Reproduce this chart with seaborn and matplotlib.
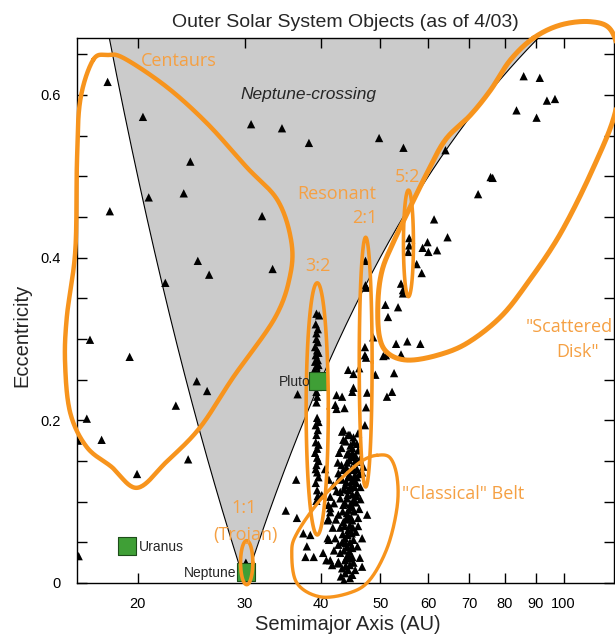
import numpy as np
import pandas as pd
import seaborn as sns
import matplotlib.pyplot as plt

# --- data: semimajor axis (AU) and eccentricity ---
centaur_a = [17.85, 20.4, 30.7, 34.5, 38.2, 24.4, 20.85, 23.8, 18.0, 32.0, 25.1, 33.3, 26.2, 22.2,
             16.7, 19.4, 25.0, 26.0, 23.1, 16.5, 15.95, 17.45, 24.2, 19.95, 16.0, 49.8, 54.6]
centaur_e = [0.616, 0.573, 0.564, 0.559, 0.541, 0.518, 0.474, 0.479, 0.457, 0.451, 0.396, 0.386, 0.379, 0.369,
             0.299, 0.278, 0.248, 0.236, 0.218, 0.202, 0.175, 0.176, 0.152, 0.134, 0.033, 0.547, 0.535]

plutino_a = [39.3, 39.7, 39.2, 39.3, 39.3, 39.5, 39.1, 39.4, 39.2, 39.5, 39.1, 39.3, 39.0, 39.6, 39.4,
             39.2, 39.5, 39.3, 39.4, 39.3, 39.4, 39.2, 39.5, 39.3, 39.2, 39.6, 39.1, 39.4, 39.3, 39.4,
             39.6, 39.2, 39.4, 39.5, 39.6, 39.6, 39.1, 39.6, 39.4, 39.6, 39.2, 39.5, 39.3]
plutino_e = [0.331, 0.329, 0.318, 0.307, 0.300, 0.296, 0.290, 0.286, 0.280, 0.274, 0.272, 0.266, 0.262, 0.259, 0.253,
             0.246, 0.241, 0.235, 0.229, 0.222, 0.203, 0.194, 0.188, 0.182, 0.173, 0.170, 0.160, 0.154, 0.145, 0.136,
             0.130, 0.123, 0.114, 0.312, 0.283, 0.268, 0.250, 0.198, 0.165, 0.150, 0.140, 0.107, 0.101]

classical_a = [43.3, 44.3, 45.2, 43.5, 45.2, 43.2, 45.0, 42.8, 44.3, 45.5, 42.6, 44.1, 45.8, 46.9, 43.5,
               45.2, 46.7, 42.7, 44.3, 45.8, 43.3, 45.2, 41.9, 43.8, 44.8, 43.0, 44.3, 45.8, 41.4, 43.0,
               44.1, 45.2, 46.4, 41.1, 43.5, 45.0, 47.6, 41.4, 42.7, 44.1, 41.1, 43.5, 45.0, 46.0, 43.0,
               44.3, 41.0, 42.2, 43.8, 45.2, 46.7, 42.7, 44.1, 45.0, 40.3, 43.0, 44.3, 41.4, 42.7, 43.8,
               45.2, 46.7, 43.3, 44.3, 45.5, 43.8, 45.0,
               43.9, 44.6, 44.0, 44.7, 43.6, 44.5, 43.9, 44.6, 43.4, 44.2, 44.9, 43.7, 44.6, 43.9, 44.8,
               43.4, 44.4, 45.3, 43.8, 44.7, 45.6, 44.2, 45.0, 45.7, 43.6, 44.6, 45.4, 44.0, 44.9, 45.7,
               44.5, 45.4, 46.2, 44.0, 44.9, 45.8, 44.5, 45.5, 46.3, 44.1, 45.0, 46.0, 44.7, 45.8, 43.9,
               44.8, 43.2, 42.9, 42.4, 42.0, 46.4, 46.2, 46.0, 45.9, 46.3, 42.0, 41.8, 42.3, 43.1, 44.6,
               43.6, 44.9, 43.3, 45.6, 42.6, 44.2, 45.1, 45.0]
classical_e = [0.186, 0.182, 0.179, 0.176, 0.173, 0.166, 0.166, 0.160, 0.160, 0.157, 0.148, 0.148, 0.149, 0.143, 0.139,
               0.139, 0.136, 0.135, 0.130, 0.130, 0.127, 0.127, 0.120, 0.120, 0.119, 0.112, 0.114, 0.111, 0.106, 0.104,
               0.104, 0.102, 0.103, 0.096, 0.096, 0.093, 0.084, 0.087, 0.084, 0.086, 0.079, 0.075, 0.077, 0.080, 0.068,
               0.065, 0.055, 0.055, 0.055, 0.053, 0.055, 0.047, 0.044, 0.043, 0.037, 0.037, 0.034, 0.028, 0.026, 0.028,
               0.025, 0.020, 0.018, 0.016, 0.016, 0.012, 0.010,
               0.021, 0.022, 0.031, 0.030, 0.040, 0.039, 0.049, 0.050, 0.060, 0.059, 0.061, 0.070, 0.071, 0.078, 0.080,
               0.088, 0.090, 0.088, 0.098, 0.097, 0.099, 0.108, 0.109, 0.107, 0.115, 0.117, 0.118, 0.124, 0.125, 0.123,
               0.133, 0.132, 0.134, 0.142, 0.141, 0.140, 0.151, 0.150, 0.152, 0.158, 0.160, 0.163, 0.169, 0.171, 0.174,
               0.155, 0.145, 0.130, 0.113, 0.098, 0.118, 0.091, 0.070, 0.045, 0.031, 0.040, 0.068, 0.078, 0.008, 0.006,
               0.003, 0.045, 0.050, 0.063, 0.024, 0.082, 0.068, 0.032]

middle_a = [48.7, 47.2, 47.2, 53.1, 44.3, 45.2, 46.2, 49.1, 52.7, 52.3, 51.3, 45.2, 45.0, 47.6, 42.4,
            43.3, 42.2, 43.7, 42.4, 47.4, 47.2, 43.5, 44.6, 46.0, 36.6, 51.1, 55.4, 58.2, 50.6, 54.1,
            51.0, 53.5, 51.5, 47.3, 47.3, 47.5, 47.4, 36.4, 36.5, 35.0, 40.1, 41.2, 40.6]
middle_e = [0.302, 0.290, 0.280, 0.294, 0.262, 0.257, 0.264, 0.256, 0.258, 0.235, 0.229, 0.240, 0.235, 0.234, 0.231,
            0.229, 0.219, 0.215, 0.214, 0.216, 0.194, 0.188, 0.182, 0.184, 0.232, 0.280, 0.297, 0.294, 0.279, 0.281,
            0.342, 0.339, 0.327, 0.396, 0.366, 0.363, 0.277, 0.127, 0.080, 0.089, 0.108, 0.127, 0.140]

inner_a = [37.4, 38.4, 37.9, 37.7, 38.9, 41.2, 41.0, 41.4, 40.8, 41.7, 30.1]
inner_e = [0.061, 0.059, 0.045, 0.032, 0.032, 0.053, 0.077, 0.092, 0.028, 0.022, 0.025]

scattered_a = [55.8, 55.8, 55.6, 54.1, 54.5, 54.5, 61.3, 64.5, 59.8, 58.7, 60.0, 62.0, 57.4, 58.5,
               72.4, 75.9, 76.5, 86.0, 91.4, 93.9, 96.8, 83.7, 90.3, 64.0]
scattered_e = [0.424, 0.415, 0.407, 0.368, 0.360, 0.356, 0.447, 0.425, 0.419, 0.412, 0.407, 0.409, 0.392, 0.381,
               0.478, 0.499, 0.498, 0.623, 0.621, 0.593, 0.595, 0.581, 0.572, 0.532]

planet_names = ["Uranus", "Neptune", "Pluto"]
planet_a = [19.2, 30.1, 39.5]
planet_e = [0.046, 0.013, 0.248]

x_ticks = [20, 30, 40, 50, 60, 70, 80, 90, 100]
NEPTUNE_A = 30.0

# hand drawn orange loops (a, e)
centaur_loop_a = [16.9, 17.85, 19.0, 22.3, 26.0, 30.2, 33.9, 35.7, 35.6, 33.6, 28.7, 25.3, 22.3, 19.95,
                  18.1, 16.5, 15.5, 15.2, 15.3, 15.8, 15.9, 16.1]
centaur_loop_e = [0.643, 0.649, 0.645, 0.610, 0.565, 0.511, 0.471, 0.422, 0.379, 0.326, 0.253, 0.191, 0.149, 0.117,
                  0.143, 0.167, 0.209, 0.270, 0.327, 0.409, 0.520, 0.594]
scatter_loop_a = [89.3, 98.9, 110.7, 119.5, 123.2, 121.8, 112.0, 98.9, 87.3, 78.8, 69.5, 62.1, 55.4, 51.4,
                  49.8, 49.6, 50.4, 52.5, 56.0, 59.7, 64.0, 70.3, 75.9, 81.8]
scatter_loop_e = [0.670, 0.686, 0.690, 0.680, 0.643, 0.581, 0.511, 0.430, 0.369, 0.327, 0.295, 0.280, 0.274, 0.283,
                  0.305, 0.348, 0.385, 0.418, 0.462, 0.504, 0.545, 0.575, 0.606, 0.643]
classical_loop_a = [49.4, 51.9, 53.3, 53.3, 51.4, 48.1, 44.6, 39.85, 36.5, 35.8, 36.5, 39.85, 44.1, 46.9]
classical_loop_e = [0.157, 0.154, 0.130, 0.093, 0.044, 0.004, -0.012, -0.017, 0.0, 0.037, 0.061, 0.102, 0.135, 0.151]
# resonance loops: (a_min, a_max, e_min, e_max)
resonance_boxes = {"3:2": (37.8, 41.1, 0.059, 0.369),
                   "2:1": (46.2, 48.5, 0.118, 0.425),
                   "5:2": (54.6, 56.7, 0.352, 0.483),
                   "1:1": (29.5, 30.9, -0.002, 0.052)}

ORANGE = "#F7941D"
TEXT_ORANGE = "#F5A043"


def closed_spline(a, e, n=24):
    # smooth closed curve through the points, built in log(a) space
    pts = np.column_stack([np.log10(a), e])
    P = np.vstack([pts[-1], pts, pts[0], pts[1]])
    t = np.linspace(0, 1, n, endpoint=False)[:, None]
    segs = []
    for i in range(1, len(pts) + 1):
        p0, p1, p2, p3 = P[i - 1], P[i], P[i + 1], P[i + 2]
        segs.append(0.5 * (2 * p1 + (-p0 + p2) * t + (2 * p0 - 5 * p1 + 4 * p2 - p3) * t ** 2
                           + (-p0 + 3 * p1 - 3 * p2 + p3) * t ** 3))
    out = np.vstack(segs + [segs[0][:1]])
    return 10 ** out[:, 0], out[:, 1]


def box_ellipse(box, n=100):
    a0, a1, e0, e1 = box
    t = np.linspace(0, 2 * np.pi, n)
    uc, hu = (np.log10(a0) + np.log10(a1)) / 2, (np.log10(a1) - np.log10(a0)) / 2
    return 10 ** (uc + hu * np.cos(t)), (e0 + e1) / 2 + (e1 - e0) / 2 * np.sin(t)


objects = pd.DataFrame({
    "a": centaur_a + plutino_a + classical_a + middle_a + inner_a + scattered_a,
    "e": centaur_e + plutino_e + classical_e + middle_e + inner_e + scattered_e,
})
planets = pd.DataFrame({"name": planet_names, "a": planet_a, "e": planet_e})

sns.set_theme(style="ticks")
plt.rcParams['font.family'] = ['Liberation Sans', 'DejaVu Sans']

fig = plt.figure(figsize=(6.15, 6.37), dpi=100)
ax = fig.add_axes([0.1252, 0.0848, 0.8732, 0.8556])
ax.set_xscale("log")
XMIN, XMAX, YMAX = 15.9, 121, 0.67

# Neptune-crossing zone: perihelion inside 30 AU and aphelion outside
grid = np.geomspace(XMIN, XMAX, 500)
edge = np.abs(1 - NEPTUNE_A / grid)
ax.fill_between(grid, edge, YMAX, color="#cbcbcb", lw=0, zorder=0)
ax.plot(grid, edge, color="black", lw=0.8, zorder=1)

sns.scatterplot(data=objects, x="a", y="e", marker="^", color="black", s=36,
                edgecolor="none", legend=False, ax=ax, zorder=3)
sns.scatterplot(data=planets, x="a", y="e", marker="s", color="#3f9f36", s=150,
                edgecolor="#1d4d1a", linewidth=0.8, legend=False, ax=ax, zorder=4)

# orange annotation loops
for la, le, lw in [(centaur_loop_a, centaur_loop_e, 3.2),
                   (scatter_loop_a, scatter_loop_e, 3.6),
                   (classical_loop_a, classical_loop_e, 2.4)]:
    xs, ys = closed_spline(la, le)
    ax.plot(xs, ys, color=ORANGE, lw=lw, clip_on=False, zorder=5, solid_capstyle="round")
for name, box in resonance_boxes.items():
    xs, ys = box_ellipse(box)
    ax.plot(xs, ys, color=ORANGE, lw=2.6, clip_on=False, zorder=5)

# labels
afont = dict(color=TEXT_ORANGE, fontsize=13, family=["Open Sans", "DejaVu Sans"], ha="center", va="center", zorder=6)
ax.text(23.4, 0.642, "Centaurs", **afont)
ax.text(42.5, 0.478, "Resonant", **afont)
ax.text(39.55, 0.390, "3:2", **afont)
ax.text(47.1, 0.449, "2:1", **afont)
ax.text(55.4, 0.499, "5:2", **afont)
ax.text(29.9, 0.092, "1:1", **afont)
ax.text(30.0, 0.059, "(Trojan)", **afont)
ax.text(102.3, 0.315, "\"Scattered", **afont)
ax.text(105.4, 0.284, "Disk\"", **afont)
ax.text(68.5, 0.109, "\"Classical\" Belt", **afont)
ax.text(38.1, 0.600, "Neptune-crossing", fontsize=12.5, style="italic", ha="center", va="center", zorder=6)

pfont = dict(fontsize=10, va="center", zorder=6)
ax.text(20.1, 0.044, "Uranus", ha="left", **pfont)
ax.text(29.0, 0.012, "Neptune", ha="right", **pfont)
ax.text(38.4, 0.247, "Pluto", ha="right", **pfont)

ax.set_xlim(XMIN, XMAX)
ax.set_ylim(0, YMAX)
ax.set_xticks(x_ticks)
ax.set_xticklabels([str(t) for t in x_ticks])
ax.xaxis.set_minor_locator(plt.NullLocator())
yt = np.round(np.arange(0, 0.66, 0.05), 2)
ax.set_yticks(yt)
ax.set_yticklabels(["0" if v == 0 else (f"{v:.1f}" if round(v * 100) % 20 == 0 else "") for v in yt])
ax.tick_params(direction="in", top=True, right=True, length=7, width=1, labelsize=10.5, colors="black")
ax.tick_params(axis="x", pad=10)
ax.tick_params(axis="y", pad=12)
for s in ax.spines.values():
    s.set_linewidth(1)
    s.set_color("black")

ax.set_title("Outer Solar System Objects (as of 4/03)", fontsize=14, pad=8)
ax.set_xlabel("Semimajor Axis (AU)", fontsize=14.5, va="center")
ax.set_ylabel("Eccentricity", fontsize=14.5, va="center")
ax.xaxis.set_label_coords(0.505, -0.077)
ax.yaxis.set_label_coords(-0.102, 0.455)

fig.savefig("out.png", dpi=100)
